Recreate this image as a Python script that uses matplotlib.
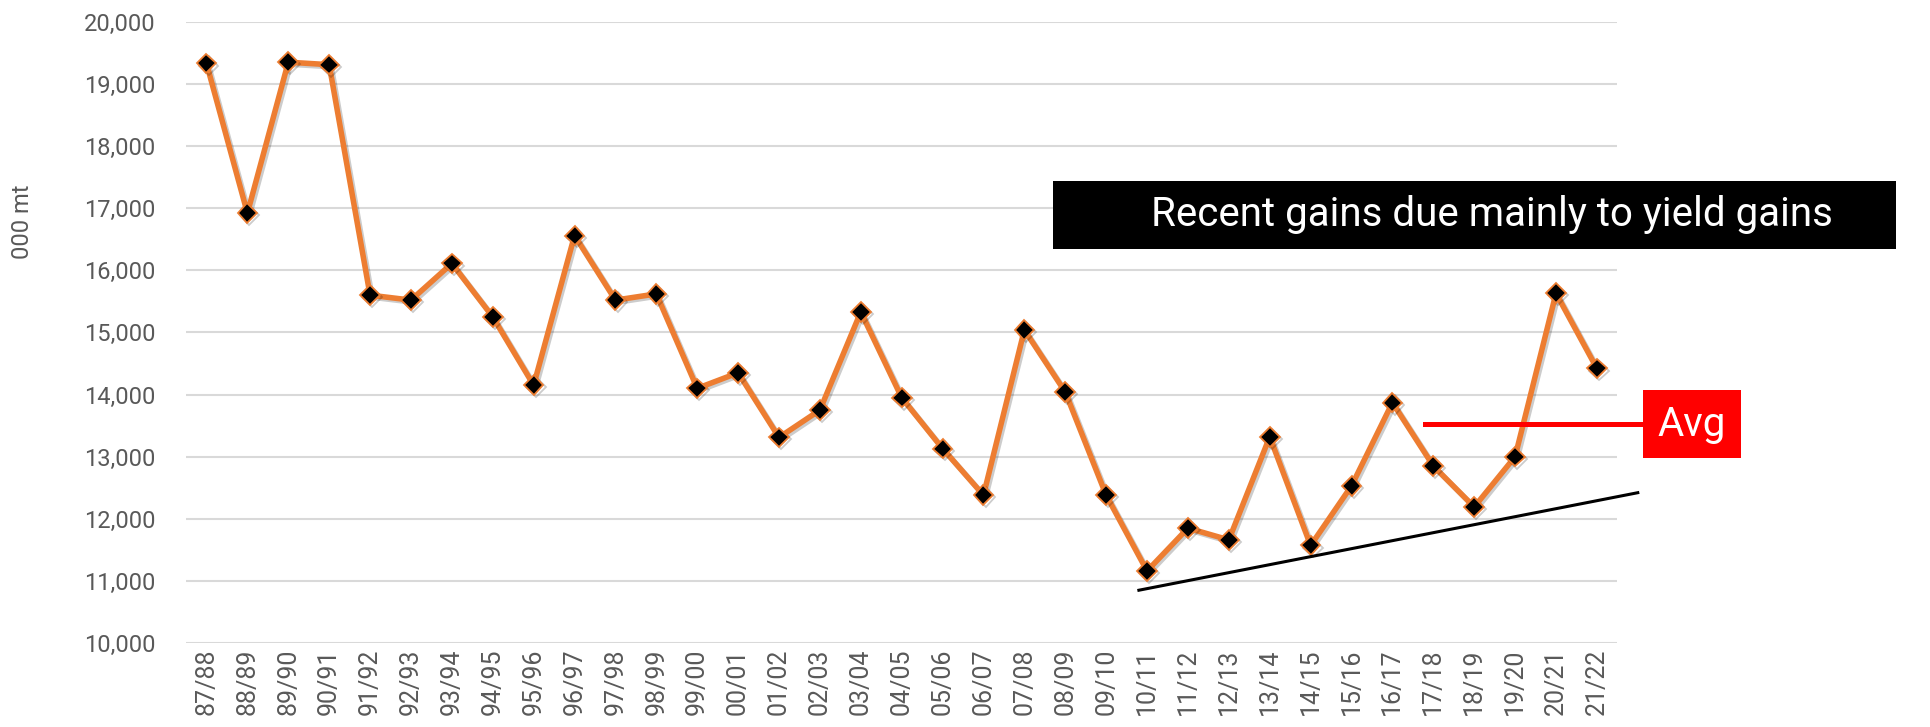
import matplotlib
matplotlib.use("Agg")
import matplotlib.pyplot as plt
import matplotlib.patheffects as pe
from matplotlib.patches import Rectangle

# marketing years and production (000 mt)
years = ['87/88', '88/89', '89/90', '90/91', '91/92', '92/93', '93/94', '94/95',
         '95/96', '96/97', '97/98', '98/99', '99/00', '00/01', '01/02', '02/03',
         '03/04', '04/05', '05/06', '06/07', '07/08', '08/09', '09/10', '10/11',
         '11/12', '12/13', '13/14', '14/15', '15/16', '16/17', '17/18', '18/19',
         '19/20', '20/21', '21/22']
production = [19330, 16920, 19350, 19310, 15600, 15520, 16110, 15250,
              14150, 16560, 15520, 15620, 14100, 14350, 13310, 13750,
              15330, 13950, 13130, 12380, 15040, 14040, 12380, 11160,
              11850, 11660, 13320, 11570, 12530, 13870, 12850, 12190,
              13000, 15630, 14420]
y_ticks = [10000, 11000, 12000, 13000, 14000, 15000, 16000, 17000, 18000, 19000, 20000]

# trend line under the recent lows, and the average marker
trend_x = [22.8, 35.0]
trend_y = [10850, 12420]
avg_x = [29.8, 35.1]
avg_y = 13530

plt.rcParams['font.family'] = ['Roboto', 'DejaVu Sans']

fig = plt.figure(figsize=(19.3, 7.27), dpi=100)
ax = fig.add_axes([0.0964, 0.1155, 0.7416, 0.8545])

x = list(range(len(years)))
ax.plot(x, production, color='#ED7D31', linewidth=4, zorder=3,
        marker='D', markersize=10, markerfacecolor='black',
        markeredgecolor='#ED7D31', markeredgewidth=1.3,
        path_effects=[pe.SimpleLineShadow(offset=(1.5, -1.5), alpha=0.2), pe.Normal()])

ax.plot(trend_x, trend_y, color='black', linewidth=2.2, clip_on=False, zorder=4)
ax.plot(avg_x, [avg_y, avg_y], color='#FF0000', linewidth=3.6, clip_on=False, zorder=4)

ax.set_xlim(-0.5, len(years) - 0.5)
ax.set_ylim(10000, 20000)
ax.set_yticks(y_ticks)
ax.set_yticklabels([f'{v:,}' for v in y_ticks])
ax.set_xticks(x)
ax.set_xticklabels(years, rotation=90)
ax.tick_params(axis='y', length=0, colors='#595959', labelsize=17, pad=22)
ax.tick_params(axis='x', length=0, colors='#595959', labelsize=18, pad=4)
ax.grid(axis='y', color='#D9D9D9', linewidth=1.5)
ax.set_axisbelow(True)
for s in ax.spines.values():
    s.set_visible(False)

fig.text(0.0114, 0.695, '000 mt', rotation=90, ha='center', va='center',
         color='#595959', fontsize=17)

# black headline box
fig.add_artist(Rectangle((0.5456, 0.6575), 0.4368, 0.0935, transform=fig.transFigure,
                         facecolor='black', edgecolor='none', zorder=5))
fig.text(0.773, 0.705, 'Recent gains due mainly to yield gains', color='white',
         ha='center', va='center', fontsize=29, zorder=6)

# red Avg box
fig.add_artist(Rectangle((0.8513, 0.370), 0.0508, 0.0935, transform=fig.transFigure,
                         facecolor='#FF0000', edgecolor='none', zorder=5))
fig.text(0.8767, 0.4165, 'Avg', color='white', ha='center', va='center',
         fontsize=29, zorder=6)

fig.savefig('out.png', dpi=100)
plt.close(fig)
